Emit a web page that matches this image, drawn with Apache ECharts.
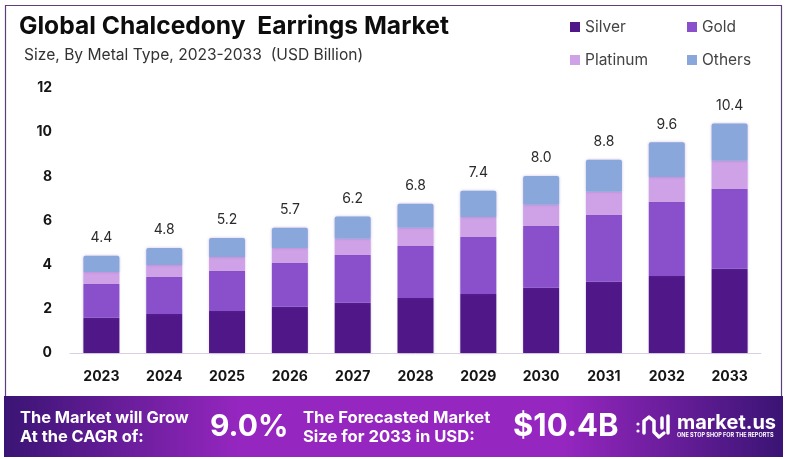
<!DOCTYPE html>
<html>
<head>
<meta charset="utf-8">
<title>Global Chalcedony Earrings Market</title>
<script src="https://cdn.jsdelivr.net/npm/echarts@6/dist/echarts.min.js"></script>
<style>
    html, body { margin: 0; padding: 0; background: #fff; }
    #main { width: 786px; height: 459px; }
</style>
</head>
<body>
<div id="main"></div>
<script>
let years = ['2023', '2024', '2025', '2026', '2027', '2028', '2029', '2030', '2031', '2032', '2033'];
let silver = [1.60, 1.77, 1.90, 2.10, 2.27, 2.49, 2.67, 2.95, 3.23, 3.49, 3.81];
let gold = [1.53, 1.68, 1.82, 1.98, 2.17, 2.36, 2.58, 2.81, 3.03, 3.36, 3.63];
let platinum = [0.54, 0.54, 0.63, 0.68, 0.73, 0.82, 0.91, 0.95, 1.04, 1.12, 1.27];
let others = [0.73, 0.77, 0.86, 0.91, 1.01, 1.09, 1.19, 1.31, 1.45, 1.57, 1.68];
let totals = ['4.4', '4.8', '5.2', '5.7', '6.2', '6.8', '7.4', '8.0', '8.8', '9.6', '10.4'];

let fontName = 'Inter';
let myChart = echarts.init(document.getElementById('main'), null, { renderer: 'canvas' });

function barSeries(name, values, color) {
    return {
        name: name,
        type: 'bar',
        stack: 'total',
        barWidth: 36,
        data: values,
        itemStyle: {
            color: color,
            shadowColor: 'rgba(110, 70, 170, 0.35)',
            shadowBlur: 3
        }
    };
}

function bannerText(text, x, y, size) {
    return {
        type: 'text',
        x: x,
        y: y,
        style: {
            text: text,
            fill: '#fff',
            font: '700 ' + size + 'px ' + fontName,
            textVerticalAlign: 'middle',
            shadowColor: 'rgba(40, 0, 80, 0.7)',
            shadowBlur: 3,
            shadowOffsetX: 1,
            shadowOffsetY: 1
        }
    };
}

let othersSeries = barSeries('Others', others, '#8aa7dc');
othersSeries.itemStyle.borderRadius = [2, 2, 0, 0];
othersSeries.label = {
    show: true,
    position: 'top',
    distance: 11,
    color: '#2b2b2b',
    fontFamily: fontName,
    fontSize: 14,
    formatter: function (p) {
        return totals[p.dataIndex];
    }
};

let legendBase = {
    orient: 'vertical',
    icon: 'rect',
    itemWidth: 10,
    itemHeight: 10,
    itemGap: 17,
    top: 19,
    padding: 0,
    textStyle: { color: '#444', fontFamily: fontName, fontSize: 15.5 }
};

let option = {
    animation: false,
    backgroundColor: '#fff',
    grid: { left: 70, right: 25, top: 88, bottom: 106 },
    legend: [
        Object.assign({}, legendBase, { left: 570, data: ['Silver', 'Platinum'] }),
        Object.assign({}, legendBase, { left: 687, data: ['Gold', 'Others'] })
    ],
    xAxis: {
        type: 'category',
        data: years,
        axisTick: { show: false },
        axisLine: { lineStyle: { color: '#d9d0e2', width: 1 } },
        axisLabel: { color: '#151515', fontFamily: fontName, fontWeight: 700, fontSize: 14, margin: 17 }
    },
    yAxis: {
        type: 'value',
        min: 0,
        max: 12,
        interval: 2,
        splitLine: { show: false },
        axisLine: { show: false },
        axisTick: { show: false },
        axisLabel: { color: '#151515', fontFamily: fontName, fontWeight: 700, fontSize: 14, margin: 18 }
    },
    series: [
        barSeries('Silver', silver, '#4f1787'),
        barSeries('Gold', gold, '#8a4fcb'),
        barSeries('Platinum', platinum, '#cfa1e6'),
        othersSeries
    ],
    graphic: [
        // 外框
        {
            type: 'rect',
            z: -1,
            shape: { x: 5.5, y: 5.5, width: 776, height: 400 },
            style: { fill: 'none', stroke: '#5c3f7c', lineWidth: 1.2 }
        },
        // 标题
        {
            type: 'text', x: 19, y: 27,
            style: { text: 'Global Chalcedony  Earrings Market', fill: '#0d0d0d', font: '700 24.6px ' + fontName, textVerticalAlign: 'middle' }
        },
        {
            type: 'text', x: 24, y: 55,
            style: { text: 'Size, By Metal Type, 2023-2033  (USD Billion)', fill: '#333', font: '400 15.6px ' + fontName, textVerticalAlign: 'middle' }
        },
        // 底部横幅
        {
            type: 'rect',
            shape: { x: 4, y: 396, width: 779, height: 61 },
            style: {
                fill: new echarts.graphic.LinearGradient(0, 0, 1, 0, [
                    { offset: 0, color: '#3a1474' },
                    { offset: 0.3, color: '#9526bf' },
                    { offset: 0.72, color: '#9526bf' },
                    { offset: 1, color: '#3a1474' }
                ])
            }
        },
        bannerText('The Market will Grow', 20, 418, 16.4),
        bannerText('At the CAGR of:', 20, 437, 16.4),
        bannerText('9.0%', 210, 427, 30),
        bannerText('The Forecasted Market', 303, 418, 16.6),
        bannerText('Size for 2033 in USD:', 303, 437, 16.6),
        bannerText('$10.4B', 513, 427, 31),
        bannerText('market.us', 677, 423, 20),
        {
            type: 'text', x: 677, y: 435,
            style: { text: 'ONE STOP SHOP FOR THE REPORTS', fill: '#fff', font: '700 5.5px ' + fontName, textVerticalAlign: 'middle' }
        },
        // logo
        {
            type: 'polyline',
            shape: { points: [[644, 433], [644, 421], [649, 417], [654, 421], [654, 432], [659, 437], [664, 433]] },
            style: { fill: 'none', stroke: '#fff', lineWidth: 3.5, lineCap: 'round', lineJoin: 'round' }
        },
        {
            type: 'line',
            shape: { x1: 662, y1: 418, x2: 662, y2: 428 },
            style: { stroke: '#fff', lineWidth: 3.5, lineCap: 'round' }
        },
        {
            type: 'line',
            shape: { x1: 668, y1: 416, x2: 668, y2: 433 },
            style: { stroke: '#fff', lineWidth: 3.5, lineCap: 'round' }
        },
        {
            type: 'circle',
            shape: { cx: 638, cy: 424, r: 1.6 },
            style: { fill: '#fff' }
        },
        {
            type: 'circle',
            shape: { cx: 638, cy: 431, r: 1.6 },
            style: { fill: '#fff' }
        }
    ]
};
myChart.setOption(option);
</script>
</body>
</html>
